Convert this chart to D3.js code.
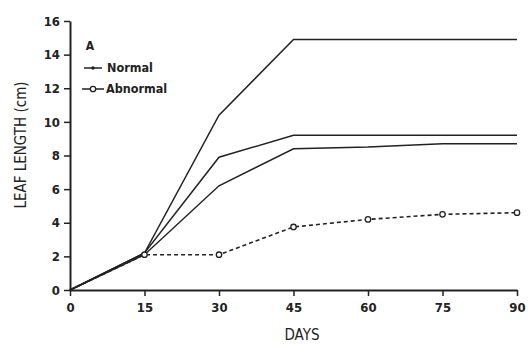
<!DOCTYPE html>
<html>
<head>
<meta charset="utf-8">
<script src="https://cdn.jsdelivr.net/npm/d3@7"></script>
<style>
  body { margin: 0; background: #fff; }
  svg text { font-family: "DejaVu Sans Condensed", "DejaVu Sans", sans-serif; fill: #222; }
</style>
</head>
<body>
<svg id="chart" width="528" height="345"></svg>
<script>
// days sampled
const days = [0, 15, 30, 45, 60, 75, 90];
// three normal plants
const normal1 = [0, 2.2, 10.4, 14.9, 14.9, 14.9, 14.9];
const normal2 = [0, 2.2, 7.9, 9.2, 9.2, 9.2, 9.2];
const normal3 = [0, 2.1, 6.2, 8.4, 8.5, 8.7, 8.7];
// abnormal plant
const abnormal = [0, 2.1, 2.1, 3.75, 4.2, 4.5, 4.6];
const yTicks = [0, 2, 4, 6, 8, 10, 12, 14, 16];

const svg = d3.select("#chart");
const ink = "#222";

let x = d3.scaleLinear().domain([0, 90]).range([70, 517]);
let y = d3.scaleLinear().domain([0, 16]).range([290, 21]);

// axes
let xAxis = d3.axisBottom(x).tickValues(days).tickSize(6).tickSizeOuter(0);
let yAxis = d3.axisLeft(y).tickValues(yTicks).tickSize(6).tickSizeOuter(0);

let gx = svg.append("g")
  .attr("transform", "translate(0,290)")
  .call(xAxis);
gx.select(".domain").attr("stroke", ink).attr("stroke-width", 2.2);
gx.selectAll(".tick line").attr("stroke", ink).attr("stroke-width", 1.5);
gx.selectAll(".tick text")
  .attr("y", 13).attr("dy", "0.71em")
  .attr("font-size", 13).attr("font-weight", "bold")
  .style("font-family", "'DejaVu Sans Condensed', sans-serif").attr("fill", ink);

let gy = svg.append("g")
  .attr("transform", "translate(70,0)")
  .call(yAxis);
gy.select(".domain").attr("stroke", ink).attr("stroke-width", 2);
gy.selectAll(".tick line").attr("stroke", ink).attr("stroke-width", 1.5);
gy.selectAll(".tick text")
  .attr("x", -10)
  .attr("font-size", 13).attr("font-weight", "bold")
  .style("font-family", "'DejaVu Sans Condensed', sans-serif").attr("fill", ink);

// axis titles
svg.append("text")
  .attr("x", 302).attr("y", 340)
  .attr("text-anchor", "middle")
  .attr("font-size", 15)
  .text("DAYS");

svg.append("text")
  .attr("transform", "translate(26,145) rotate(-90)")
  .attr("text-anchor", "middle")
  .attr("font-size", 15)
  .text("LEAF LENGTH (cm)");

// lines
let line = d3.line()
  .x(function(d, i) { return x(days[i]); })
  .y(function(d) { return y(d); });

[normal1, normal2, normal3].forEach(function(s) {
  svg.append("path")
    .datum(s)
    .attr("d", line)
    .attr("fill", "none")
    .attr("stroke", ink)
    .attr("stroke-width", 1.5);
});

svg.append("path")
  .datum(abnormal)
  .attr("d", line)
  .attr("fill", "none")
  .attr("stroke", ink)
  .attr("stroke-width", 1.6)
  .attr("stroke-dasharray", "4,3");

svg.selectAll("circle.ab")
  .data(abnormal.slice(1))
  .enter()
  .append("circle")
  .attr("class", "ab")
  .attr("cx", function(d, i) { return x(days[i + 1]); })
  .attr("cy", function(d) { return y(d); })
  .attr("r", 2.7)
  .attr("fill", "#fff")
  .attr("stroke", ink)
  .attr("stroke-width", 1.3);

// legend
svg.append("text")
  .attr("x", 90).attr("y", 50)
  .attr("text-anchor", "middle")
  .attr("font-size", 12).attr("font-weight", "bold")
  .text("A");

svg.append("line")
  .attr("x1", 84).attr("x2", 102).attr("y1", 68).attr("y2", 68)
  .attr("stroke", ink).attr("stroke-width", 1.5);
svg.append("circle")
  .attr("cx", 93).attr("cy", 68).attr("r", 1.8).attr("fill", ink);
svg.append("text")
  .attr("x", 107).attr("y", 72)
  .attr("font-size", 12.5).attr("font-weight", "bold")
  .text("Normal");

svg.append("line")
  .attr("x1", 82).attr("x2", 104).attr("y1", 89).attr("y2", 89)
  .attr("stroke", ink).attr("stroke-width", 1.5);
svg.append("circle")
  .attr("cx", 93).attr("cy", 89).attr("r", 2.7)
  .attr("fill", "#fff").attr("stroke", ink).attr("stroke-width", 1.3);
svg.append("text")
  .attr("x", 106).attr("y", 93)
  .attr("font-size", 12.5).attr("font-weight", "bold")
  .text("Abnormal");
</script>
</body>
</html>
